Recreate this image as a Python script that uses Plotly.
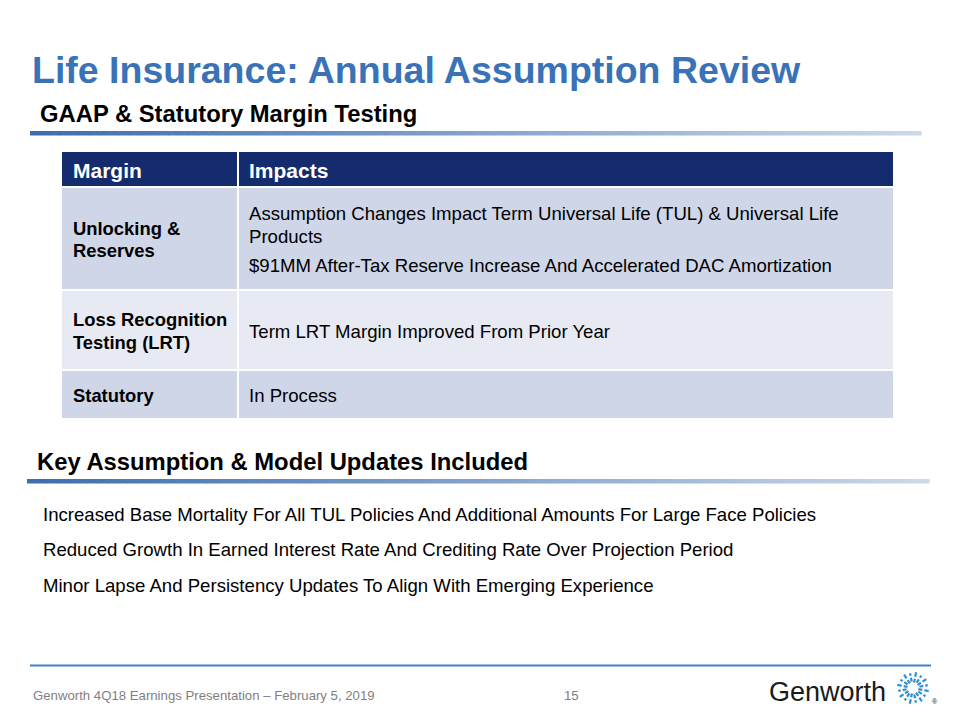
import math
import plotly.graph_objects as go

# slide content
title = "Life Insurance: Annual Assumption Review"
section_titles = ["GAAP & Statutory Margin Testing", "Key Assumption & Model Updates Included"]
table_header = ["Margin", "Impacts"]
margins = ["Unlocking &<br>Reserves", "Loss Recognition<br>Testing (LRT)", "Statutory"]
impacts = [
    ["Assumption Changes Impact Term Universal Life (TUL) & Universal Life<br>Products",
     "$91MM After-Tax Reserve Increase And Accelerated DAC Amortization"],
    ["Term LRT Margin Improved From Prior Year"],
    ["In Process"],
]
updates = [
    "Increased Base Mortality For All TUL Policies And Additional Amounts For Large Face Policies",
    "Reduced Growth In Earned Interest Rate And Crediting Rate Over Projection Period",
    "Minor Lapse And Persistency Updates To Align With Emerging Experience",
]
footer_text = "Genworth 4Q18 Earnings Presentation \u2013 February 5, 2019"
page_number = "15"
brand = "Genworth"

FONT = "Liberation Sans, Arial, sans-serif"
TITLE_BLUE = "#3A72B8"
NAVY = "#142B6E"
ROW_COLORS = ["#CFD6E7", "#E7EAF2", "#CFD6E7"]
PAGE_OFFSET = 8  # default body margin of the html page

fig = go.Figure()
shapes = []
annotations = []


def text(x, y, s, size, color="#000", bold=False, xanchor="left", yanchor="middle", family=FONT):
    if bold:
        s = "<b>" + s + "</b>"
    annotations.append(dict(x=x, y=y, xref="x", yref="y", text=s, showarrow=False,
                            xanchor=xanchor, yanchor=yanchor, align="left",
                            font=dict(family=family, size=size, color=color)))


def lines(x, cy, s, size, lh, **kw):
    # place each line on its own so the spacing matches the slide
    parts = s.split("<br>")
    y0 = cy - (len(parts) - 1) * lh / 2
    for k, p in enumerate(parts):
        text(x, y0 + k * lh, p, size, **kw)


def rect(x0, y0, x1, y1, color):
    shapes.append(dict(type="rect", xref="x", yref="y", x0=x0, y0=y0, x1=x1, y1=y1,
                       fillcolor=color, line=dict(width=0), layer="below"))


def gradient_bar(x0, x1, y0, y1, c0=(60, 110, 176), c1=(203, 216, 231), n=90):
    step = (x1 - x0) / n
    for i in range(n):
        t = i / (n - 1)
        c = tuple(round(c0[k] + (c1[k] - c0[k]) * t) for k in range(3))
        rect(x0 + i * step, y0, x0 + (i + 1) * step + 0.6, y1, "rgb(%d,%d,%d)" % c)


# title + section headers
text(30, 70, title, 37.5, TITLE_BLUE, bold=True)
text(38, 113, section_titles[0], 23.8, "#000", bold=True)
gradient_bar(30, 921, 131, 135.5)

# table
tx0, tsplit, tx1 = 62, 238, 893
gap = 2
header_top, header_h = 152, 34
row_h = [101, 78, 47]
lh = 22.5

rect(tx0, header_top, tsplit - 1, header_top + header_h, NAVY)
rect(tsplit + 1, header_top, tx1, header_top + header_h, NAVY)
text(71, header_top + header_h / 2 + 1, table_header[0], 21, "white", bold=True)
text(247, header_top + header_h / 2 + 1, table_header[1], 21, "white", bold=True)

y = header_top + header_h + gap
for i, (m, paras) in enumerate(zip(margins, impacts)):
    h = row_h[i]
    rect(tx0, y, tsplit - 1, y + h, ROW_COLORS[i])
    rect(tsplit + 1, y, tx1, y + h, ROW_COLORS[i])
    cy = y + h / 2
    lines(71, cy + 1, m, 18.4, 22.5, color="#000", bold=True)
    nlines = [p.count("<br>") + 1 for p in paras]
    pgap = 6.5
    total = sum(nlines) * lh + pgap * (len(paras) - 1)
    py = cy - total / 2
    for p, nl in zip(paras, nlines):
        lines(247, py + nl * lh / 2 + 1, p, 18.6, lh, color="#000")
        py += nl * lh + pgap
    y += h + gap

# key updates
text(35, 461, section_titles[1], 23.8, "#000", bold=True)
gradient_bar(27, 929, 479, 483.5)
for k, u in enumerate(updates):
    text(41, 514 + k * 35.5, u, 18.6, "#000")

# footer
shapes.append(dict(type="line", xref="x", yref="y", x0=30, x1=931, y0=665.5, y1=665.5,
                   line=dict(color="#3C86C4", width=2)))
text(31, 695, footer_text, 13.2, "#7F7F7F")
text(571, 695, page_number, 13.2, "#7F7F7F", xanchor="center")
text(767, 692, brand, 27, "#1A1A1A")

# starburst mark
cx, cy = 913, 688
for j in range(16):
    a = j * math.pi / 8 + math.pi / 16
    segs = [(5.5, 9.5), (11.5, 16)] if j % 2 == 0 else [(6.5, 10.5), (12.5, 15)]
    for r0, r1 in segs:
        shapes.append(dict(type="line", xref="x", yref="y",
                           x0=cx + r0 * math.cos(a), y0=cy + r0 * math.sin(a),
                           x1=cx + r1 * math.cos(a), y1=cy + r1 * math.sin(a),
                           line=dict(color="#2E8FD6", width=2.2)))
text(935, 701, "\u00ae", 7, "#1A1A1A", xanchor="center")

fig.update_layout(
    width=960, height=720,
    margin=dict(l=0, r=0, t=0, b=0),
    paper_bgcolor="white", plot_bgcolor="white",
    xaxis=dict(range=[PAGE_OFFSET, 960 + PAGE_OFFSET], visible=False, fixedrange=True),
    yaxis=dict(range=[720 + PAGE_OFFSET, PAGE_OFFSET], visible=False, fixedrange=True),
    showlegend=False,
    shapes=shapes,
    annotations=annotations,
)

fig.write_html("out.html")
